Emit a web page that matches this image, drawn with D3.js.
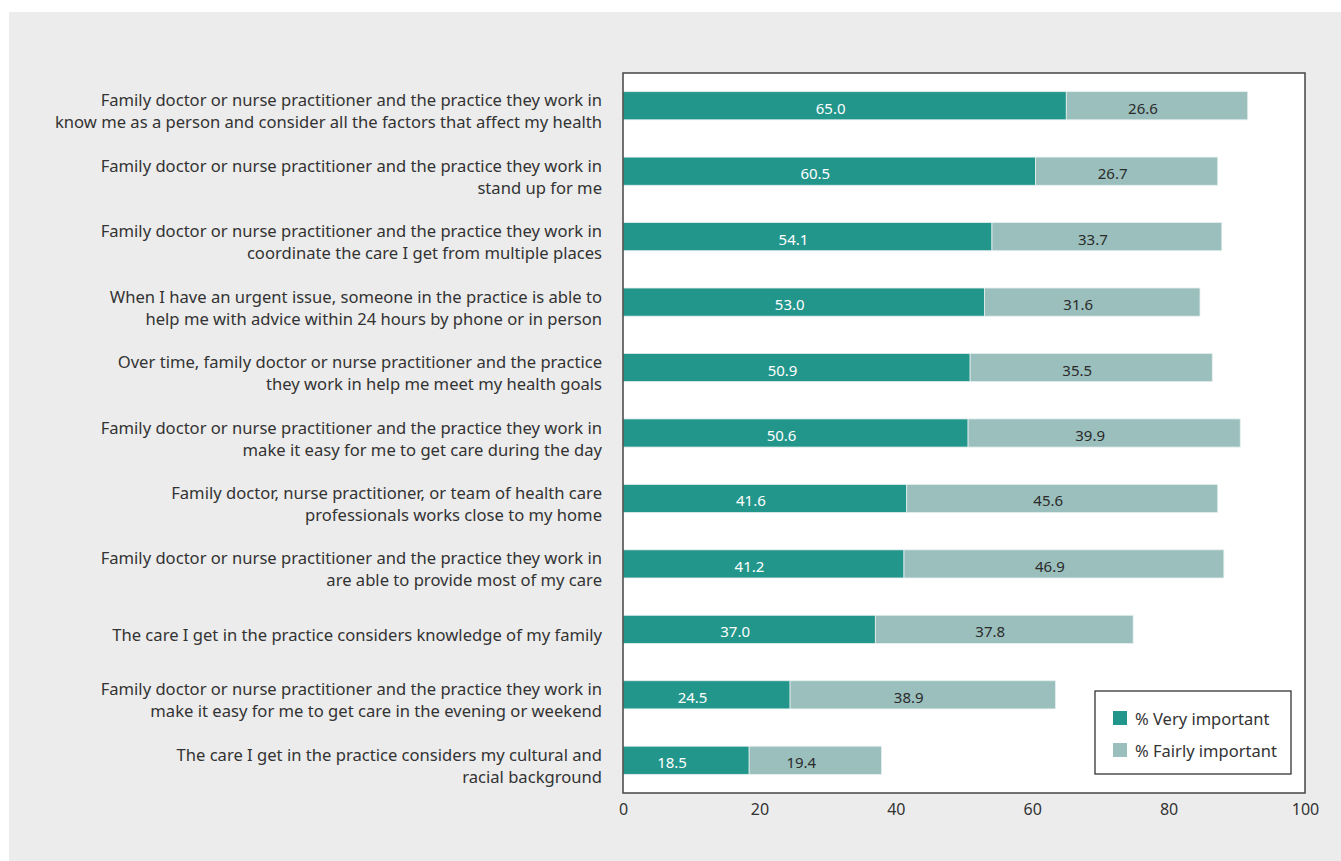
<!DOCTYPE html>
<html>
<head>
<meta charset="utf-8">
<script src="https://cdn.jsdelivr.net/npm/d3@7"></script>
<style>
  html, body { margin: 0; padding: 0; background: #ffffff; }
  svg { display: block; }
  text { font-family: "Noto Sans", "Open Sans", sans-serif; }
</style>
</head>
<body>
<svg id="chart" width="1341" height="861"></svg>
<script>
// Survey items (top to bottom); each label is split into its display lines
const categories = [
  ["Family doctor or nurse practitioner and the practice they work in", "know me as a person and consider all the factors that affect my health"],
  ["Family doctor or nurse practitioner and the practice they work in", "stand up for me"],
  ["Family doctor or nurse practitioner and the practice they work in", "coordinate the care I get from multiple places"],
  ["When I have an urgent issue, someone in the practice is able to", "help me with advice within 24 hours by phone or in person"],
  ["Over time, family doctor or nurse practitioner and the practice", "they work in help me meet my health goals"],
  ["Family doctor or nurse practitioner and the practice they work in", "make it easy for me to get care during the day"],
  ["Family doctor, nurse practitioner, or team of health care", "professionals works close to my home"],
  ["Family doctor or nurse practitioner and the practice they work in", "are able to provide most of my care"],
  ["The care I get in the practice considers knowledge of my family"],
  ["Family doctor or nurse practitioner and the practice they work in", "make it easy for me to get care in the evening or weekend"],
  ["The care I get in the practice considers my cultural and", "racial background"]
];

const veryImportant   = [65.0, 60.5, 54.1, 53.0, 50.9, 50.6, 41.6, 41.2, 37.0, 24.5, 18.5];
const fairlyImportant = [26.6, 26.7, 33.7, 31.6, 35.5, 39.9, 45.6, 46.9, 37.8, 38.9, 19.4];

const seriesNames = ["% Very important", "% Fairly important"];
const seriesColors = ["#23968c", "#9abfbd"];
const xTicks = [0, 20, 40, 60, 80, 100];

const svg = d3.select("#chart");

// grey page panel
svg.append("rect")
  .attr("x", 9).attr("y", 12)
  .attr("width", 1341 - 9).attr("height", 861 - 12)
  .attr("fill", "#ececec");

const plot = { left: 623, right: 1305, top: 73, bottom: 793 };

const x = d3.scaleLinear().domain([0, 100]).range([plot.left, plot.right]);
const y = d3.scaleBand()
  .domain(d3.range(categories.length))
  .range([plot.top, plot.bottom])
  .paddingInner(0.57)
  .paddingOuter(0.285);

// plot area
svg.append("rect")
  .attr("x", plot.left).attr("y", plot.top)
  .attr("width", plot.right - plot.left).attr("height", plot.bottom - plot.top)
  .attr("fill", "#ffffff");

// stacked bars
const rows = categories.map((c, i) => ({ i, v: [veryImportant[i], fairlyImportant[i]] }));
const segs = [];
rows.forEach(r => {
  let acc = 0;
  r.v.forEach((val, s) => {
    segs.push({ i: r.i, s, x0: acc, x1: acc + val, val });
    acc += val;
  });
});

const g = svg.append("g");
g.selectAll("rect.seg")
  .data(segs)
  .join("rect")
  .attr("class", "seg")
  .attr("x", d => x(d.x0))
  .attr("y", d => y(d.i))
  .attr("width", d => x(d.x1) - x(d.x0))
  .attr("height", y.bandwidth())
  .attr("fill", d => seriesColors[d.s])
  .attr("stroke", "#e4efee")
  .attr("stroke-width", 0.8);

g.selectAll("text.val")
  .data(segs)
  .join("text")
  .attr("class", "val")
  .attr("x", d => (x(d.x0) + x(d.x1)) / 2 - 14)
  .attr("y", d => y(d.i) + y.bandwidth() / 2 + 2)
  .attr("text-anchor", "middle")
  .attr("dominant-baseline", "central")
  .attr("font-size", 15)
  .attr("fill", d => d.s === 0 ? "#ffffff" : "#2b2b2b")
  .text(d => d.val.toFixed(1));

// category labels
const labelG = svg.append("g");
const lineH = 22;
categories.forEach((lines, i) => {
  const cy = y(i) + y.bandwidth() / 2 + 5;
  const t = labelG.append("text")
    .attr("text-anchor", "end")
    .attr("font-size", 16.6)
    .attr("fill", "#333333");
  lines.forEach((ln, k) => {
    t.append("tspan")
      .attr("x", 602)
      .attr("y", cy + (k - (lines.length - 1) / 2) * lineH)
      .attr("dominant-baseline", "central")
      .text(ln);
  });
});

// x axis
const xAxis = d3.axisBottom(x).tickValues(xTicks).tickSize(0).tickPadding(11);
const ax = svg.append("g")
  .attr("transform", `translate(0,${plot.bottom})`)
  .call(xAxis);
ax.select(".domain").remove();
ax.selectAll("text")
  .attr("font-size", 16)
  .attr("fill", "#333333")
  .style("font-family", "'Noto Sans', 'Open Sans', sans-serif");

// frame
svg.append("rect")
  .attr("x", plot.left).attr("y", plot.top)
  .attr("width", plot.right - plot.left).attr("height", plot.bottom - plot.top)
  .attr("fill", "none")
  .attr("stroke", "#444444")
  .attr("stroke-width", 1.5);

// legend
const lg = svg.append("g");
lg.append("rect")
  .attr("x", 1095).attr("y", 691)
  .attr("width", 196).attr("height", 83)
  .attr("fill", "#ffffff")
  .attr("stroke", "#333333")
  .attr("stroke-width", 1.3);
seriesNames.forEach((name, s) => {
  const yy = 718 + s * 32;
  lg.append("rect")
    .attr("x", 1113).attr("y", yy - 7)
    .attr("width", 14).attr("height", 14)
    .attr("fill", seriesColors[s]);
  lg.append("text")
    .attr("x", 1135).attr("y", yy)
    .attr("dominant-baseline", "central")
    .attr("font-size", 16.5)
    .attr("fill", "#333333")
    .text(name);
});
</script>
</body>
</html>
